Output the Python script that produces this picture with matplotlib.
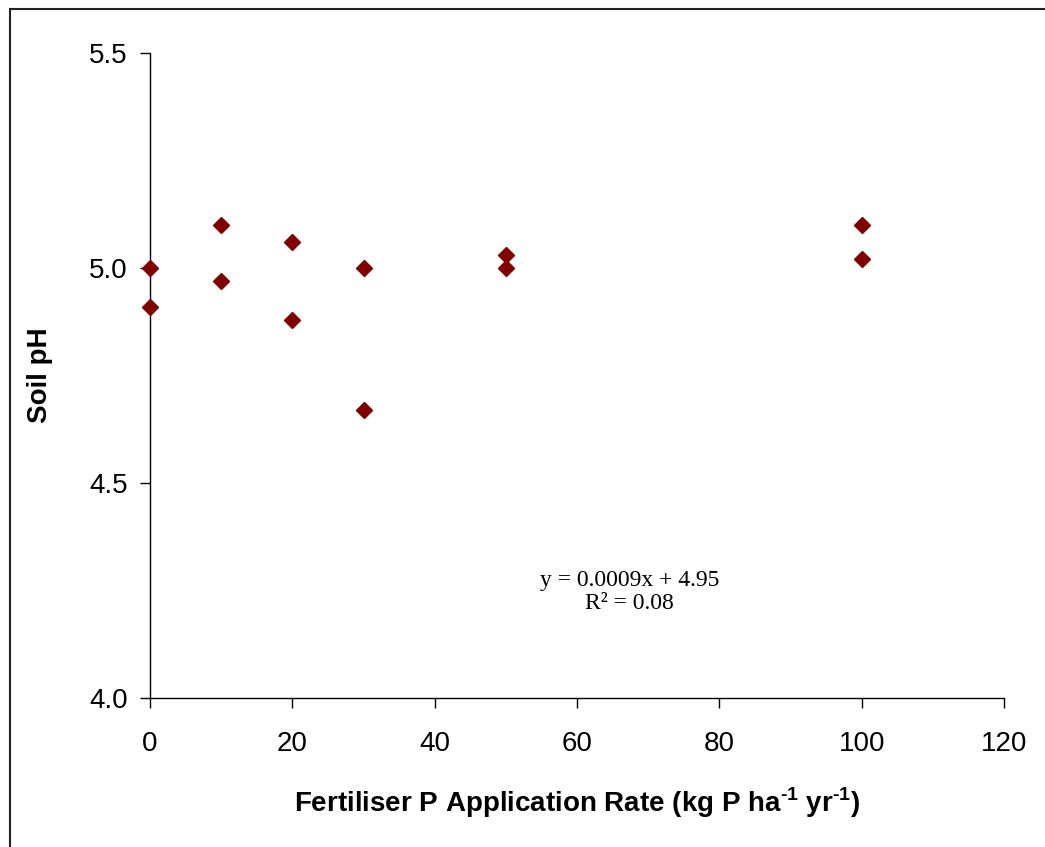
import matplotlib
matplotlib.use("Agg")
import matplotlib.pyplot as plt
from matplotlib.patches import Rectangle
from matplotlib.ticker import FormatStrFormatter, MultipleLocator

# Fertiliser P rate (kg P/ha/yr) vs soil pH
p_rate = [0, 0, 10, 10, 20, 20, 30, 30, 50, 50, 100, 100]
soil_ph = [5.00, 4.91, 5.10, 4.97, 5.06, 4.88, 5.00, 4.67, 5.03, 5.00, 5.10, 5.02]

equation = "y = 0.0009x + 4.95"
r_squared = "R\u00b2 = 0.08"

plt.rcParams["font.family"] = ["Liberation Sans", "DejaVu Sans"]
plt.rcParams["mathtext.fontset"] = "custom"
plt.rcParams["mathtext.rm"] = "Liberation Sans"
plt.rcParams["mathtext.bf"] = "Liberation Sans:bold"

fig = plt.figure(figsize=(10.45, 8.47), dpi=100)
ax = fig.add_axes([150 / 1045, 1 - 698 / 847, (1004 - 150) / 1045, (698 - 53) / 847])

# outer chart border (cut off at right and bottom)
fig.add_artist(Rectangle((10 / 1045, -0.1), 1.2, 0.1 + 1 - 9 / 847,
                         transform=fig.transFigure, fill=False,
                         edgecolor="#222222", linewidth=1.5))

ax.plot(p_rate, soil_ph, linestyle="none", marker="D", markersize=8,
        color="#800000", clip_on=False, zorder=3)

ax.set_xlim(0, 120)
ax.set_ylim(4.0, 5.5)
ax.xaxis.set_major_locator(MultipleLocator(20))
ax.yaxis.set_major_locator(MultipleLocator(0.5))
ax.yaxis.set_major_formatter(FormatStrFormatter("%.1f"))

for side in ("top", "right"):
    ax.spines[side].set_visible(False)
for side in ("left", "bottom"):
    ax.spines[side].set_linewidth(1.0)

ax.tick_params(axis="x", direction="out", length=7, width=1, labelsize=20, pad=17)
ax.tick_params(axis="y", direction="out", length=7, width=1, labelsize=20, pad=9)

ax.set_xlabel("Fertiliser P Application Rate (kg P ha$^{\\mathbf{\u2010}\\mathbf{1}}$ yr$^{\\mathbf{\u2010}\\mathbf{1}}$)",
              fontsize=20, fontweight="bold", labelpad=20)
ax.set_ylabel("Soil pH", fontsize=20, fontweight="bold", labelpad=26)

ax.text(67.4, 4.246, equation + "\n" + r_squared, ha="center", va="center",
        fontsize=17, family=["Liberation Serif", "DejaVu Serif"], linespacing=1.15)

fig.savefig("out.png", dpi=100)
